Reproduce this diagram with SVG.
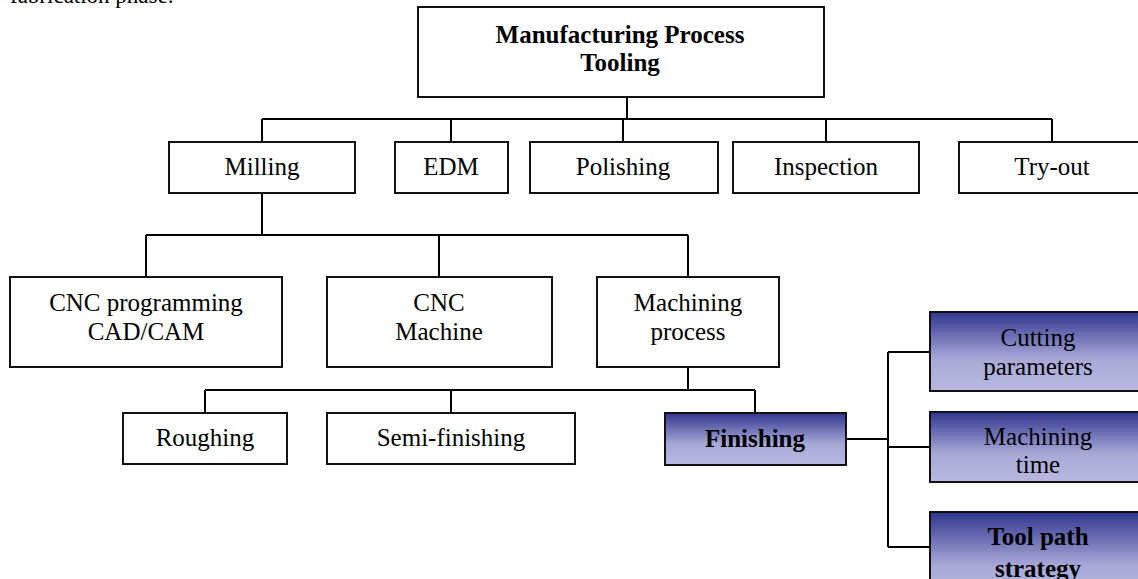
<svg xmlns="http://www.w3.org/2000/svg" width="1138" height="579" viewBox="0 0 1138 579">
<defs>
<linearGradient id="blue" x1="0" y1="0" x2="0" y2="1">
<stop offset="0" stop-color="#30368f"/>
<stop offset="0.6" stop-color="#a9a9d8"/>
<stop offset="1" stop-color="#b8b8e2"/>
</linearGradient>
</defs>
<style>
rect.n{stroke:#111;stroke-width:2;fill:#fff}
rect.b{stroke:#111;stroke-width:2;fill:url(#blue)}
text{font-family:"Liberation Serif","Times New Roman",serif;font-size:25px;fill:#000;text-anchor:middle}
text.bold{font-weight:bold}
#connectors path{fill:none;stroke:#000;stroke-width:2}
</style>
<rect width="1138" height="579" fill="#fff"/>
<text x="10" y="3" style="text-anchor:start;font-size:23px">fabrication phase.</text>
<g id="connectors">
<path d="M627 97V119"/>
<path d="M262 119H1052M262 119V142M451 119V142M623 119V142M826 119V142M1052 119V142"/>
<path d="M262 193V235M146 235H688M146 235V277M439 235V277M688 235V277"/>
<path d="M688 367V390M205 390H755M205 390V413M451 390V413M755 390V413"/>
<path d="M846 439H888M888 352V547M888 352H930M888 447H930M888 547H930"/>
</g>
<g id="n-top"><rect class="n" x="418" y="7" width="406" height="90"/><text class="bold" x="620" y="43">Manufacturing Process</text><text class="bold" x="620" y="71">Tooling</text></g>
<g id="n-milling"><rect class="n" x="169" y="142" width="186" height="51"/><text x="262" y="175">Milling</text></g>
<g id="n-edm"><rect class="n" x="395" y="142" width="113" height="51"/><text x="451" y="175">EDM</text></g>
<g id="n-polishing"><rect class="n" x="530" y="142" width="188" height="51"/><text x="623" y="175">Polishing</text></g>
<g id="n-inspection"><rect class="n" x="733" y="142" width="186" height="51"/><text x="826" y="175">Inspection</text></g>
<g id="n-tryout"><rect class="n" x="959" y="142" width="190" height="51"/><text x="1052" y="175">Try-out</text></g>
<g id="n-cncprog"><rect class="n" x="10" y="277" width="272" height="90"/><text x="146" y="311">CNC programming</text><text x="146" y="340">CAD/CAM</text></g>
<g id="n-cncmachine"><rect class="n" x="327" y="277" width="225" height="90"/><text x="439" y="311">CNC</text><text x="439" y="340">Machine</text></g>
<g id="n-machproc"><rect class="n" x="597" y="277" width="182" height="90"/><text x="688" y="311">Machining</text><text x="688" y="340">process</text></g>
<g id="n-roughing"><rect class="n" x="123" y="413" width="164" height="51"/><text x="205" y="446">Roughing</text></g>
<g id="n-semi"><rect class="n" x="327" y="413" width="248" height="51"/><text x="451" y="446">Semi-finishing</text></g>
<g id="n-finishing"><rect class="b" x="665" y="413" width="181" height="52"/><text class="bold" x="755" y="447">Finishing</text></g>
<g id="n-cutting"><rect class="b" x="930" y="312" width="216" height="79"/><text x="1038" y="346">Cutting</text><text x="1038" y="375">parameters</text></g>
<g id="n-machtime"><rect class="b" x="930" y="412" width="216" height="70"/><text x="1038" y="445">Machining</text><text x="1038" y="473">time</text></g>
<g id="n-toolpath"><rect class="b" x="930" y="512" width="216" height="90"/><text class="bold" x="1038" y="545">Tool path</text><text class="bold" x="1038" y="577">strategy</text></g>
</svg>
